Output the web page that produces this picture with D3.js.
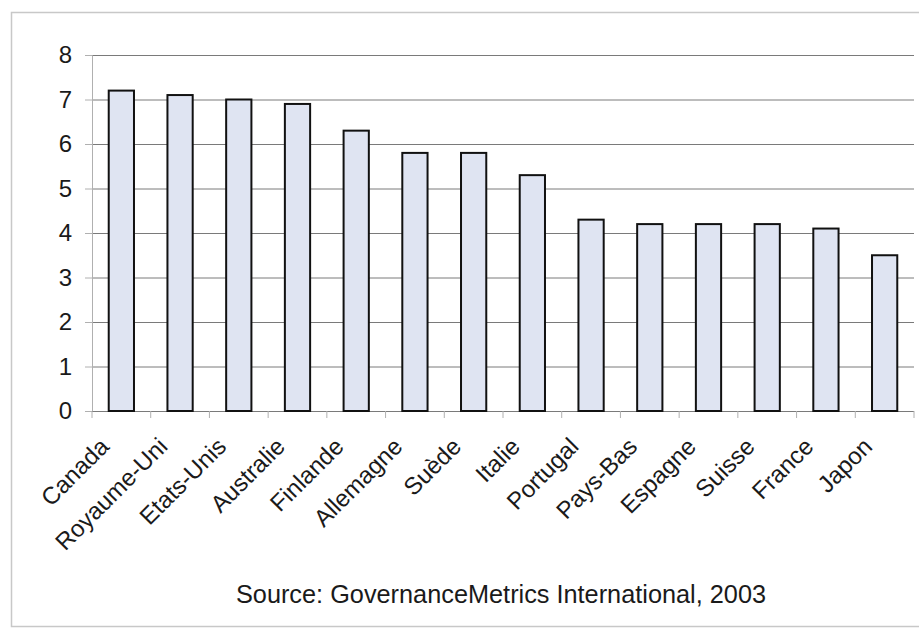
<!DOCTYPE html>
<html>
<head>
<meta charset="utf-8">
<script src="https://cdn.jsdelivr.net/npm/d3@7"></script>
<style>
  html, body { margin: 0; padding: 0; background: #fff; }
  svg { display: block; }
</style>
</head>
<body>
<svg id="chart" width="919" height="636"></svg>
<script>
// Governance rating by country
const countries = ["Canada", "Royaume-Uni", "Etats-Unis", "Australie", "Finlande", "Allemagne", "Suède",
                   "Italie", "Portugal", "Pays-Bas", "Espagne", "Suisse", "France", "Japon"];
const scores = [7.2, 7.1, 7.0, 6.9, 6.3, 5.8, 5.8, 5.3, 4.3, 4.2, 4.2, 4.2, 4.1, 3.5];
const yTicks = [0, 1, 2, 3, 4, 5, 6, 7, 8];
const sourceNote = "Source: GovernanceMetrics International, 2003";

const data = countries.map((c, i) => ({ country: c, value: scores[i] }));

const svg = d3.select("#chart");
const font = "'Liberation Sans', Arial, sans-serif";

// outer frame
svg.append("rect")
  .attr("x", 11.5).attr("y", 12.5)
  .attr("width", 930).attr("height", 614)
  .attr("fill", "#fff")
  .attr("stroke", "#c8c8c8").attr("stroke-width", 1.5);

const plot = { left: 92, right: 914, top: 55, bottom: 411 };

const x = d3.scaleBand()
  .domain(countries)
  .range([plot.left, plot.right])
  .paddingInner(0.57)
  .paddingOuter(0.285);

const y = d3.scaleLinear()
  .domain([0, 8])
  .range([plot.bottom, plot.top]);

// horizontal gridlines
svg.append("g")
  .selectAll("line")
  .data(yTicks.filter(t => t > 0))
  .join("line")
  .attr("x1", plot.left).attr("x2", plot.right)
  .attr("y1", d => y(d) + 0.5).attr("y2", d => y(d) + 0.5)
  .attr("stroke", "#7a7a7a").attr("stroke-width", 1);

// y axis
const yAxis = svg.append("g")
  .attr("transform", `translate(${plot.left},0)`)
  .call(d3.axisLeft(y).tickValues(yTicks).tickSize(7).tickPadding(13).tickFormat(d3.format("d")));
yAxis.select(".domain").attr("stroke", "#b0b0b0");
yAxis.selectAll(".tick line").attr("stroke", "#b0b0b0");
yAxis.selectAll("text")
  .attr("font-family", font).attr("font-size", 24).attr("fill", "#1a1a1a");

// x axis with ticks between categories
const xAxisG = svg.append("g").attr("transform", `translate(0,${plot.bottom})`);
xAxisG.append("line")
  .attr("x1", plot.left).attr("x2", plot.right)
  .attr("y1", 0.5).attr("y2", 0.5)
  .attr("stroke", "#7a7a7a");
const step = x.step();
const boundaries = d3.range(countries.length + 1).map(i => plot.left + i * step);
xAxisG.selectAll("line.tk")
  .data(boundaries)
  .join("line")
  .attr("class", "tk")
  .attr("x1", d => d).attr("x2", d => d)
  .attr("y1", 0).attr("y2", 7)
  .attr("stroke", "#b0b0b0");

// bars
svg.append("g")
  .selectAll("rect")
  .data(data)
  .join("rect")
  .attr("x", d => x(d.country))
  .attr("y", d => y(d.value))
  .attr("width", x.bandwidth())
  .attr("height", d => y(0) - y(d.value))
  .attr("fill", "#dfe4f2")
  .attr("stroke", "#111")
  .attr("stroke-width", 2);

// rotated category labels
svg.append("g")
  .selectAll("text")
  .data(countries)
  .join("text")
  .attr("transform", d => `translate(${x(d) + x.bandwidth() / 2 - 11},${plot.bottom + 37}) rotate(-45)`)
  .attr("text-anchor", "end")
  .attr("font-family", font)
  .attr("font-size", 24)
  .attr("fill", "#1a1a1a")
  .text(d => d);

// source note
svg.append("text")
  .attr("x", 501).attr("y", 603)
  .attr("text-anchor", "middle")
  .attr("font-family", font)
  .attr("font-size", 25.3)
  .attr("fill", "#1a1a1a")
  .text(sourceNote);
</script>
</body>
</html>
